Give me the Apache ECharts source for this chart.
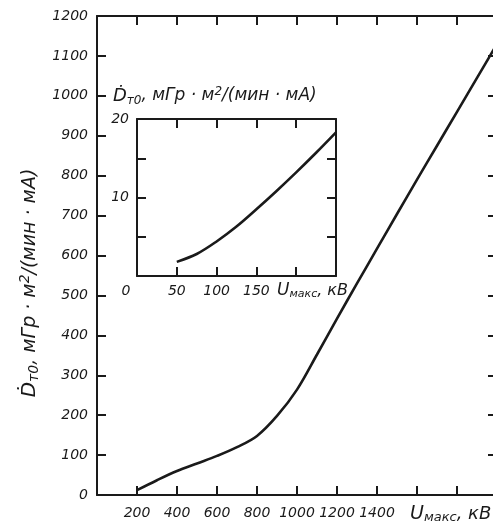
<!DOCTYPE html>
<html>
<head>
<meta charset="utf-8">
<script src="https://cdn.jsdelivr.net/npm/echarts@6/dist/echarts.min.js"></script>
<style>
  html, body { margin: 0; padding: 0; background: #fff; overflow: hidden; }
  #chart { width: 505px; height: 527px; }
</style>
</head>
<body>
<div id="chart"></div>
<script>
// main curve: U max (kV) -> dose rate
const mainVoltage = [200, 300, 400, 500, 600, 700, 800, 900, 1000, 1100, 1200, 1300, 1400, 1500, 1600, 1700, 1800, 1900, 2000];
const mainDose = [12, 37, 60, 79, 98, 120, 148, 198, 264, 352, 442, 530, 617, 704, 790, 875, 960, 1045, 1130];
const mainXLabels = [200, 400, 600, 800, 1000, 1200, 1400];

// inset curve
const insetVoltage = [50, 75, 100, 125, 150, 175, 200, 225, 250];
const insetDose = [1.8, 2.8, 4.4, 6.3, 8.5, 10.8, 13.2, 15.7, 18.3];
const insetXLabels = [0, 50, 100, 150];
const insetYLabels = [10, 20];

const ink = "#1a1a1a";
const font = "DejaVu Sans";

const labelStyle = {
  color: ink,
  fontFamily: font,
  fontStyle: "italic",
  fontSize: 14,
};

const boxAxis = (extra) => Object.assign({
  type: "value",
  splitLine: { show: false },
  axisLine: { show: true, onZero: false, lineStyle: { color: ink, width: 2 } },
  axisTick: { show: true, inside: true, length: 9, lineStyle: { color: ink, width: 2 } },
}, extra);

const makeRich = (big) => ({
  d: { fontFamily: font, fontStyle: "italic", fontSize: big + 1, fill: ink, color: ink },
  sub: { fontFamily: font, fontStyle: "italic", fontSize: big - 5, fill: ink, color: ink, padding: [9, 0, 0, 0] },
  n: { fontFamily: font, fontStyle: "italic", fontSize: big, fill: ink, color: ink },
  sup: { fontFamily: font, fontStyle: "italic", fontSize: big - 5, fill: ink, color: ink, padding: [0, 0, 9, 0] },
});
const doseTitle = "{d|Ḋ}{sub|т0}{n|, мГр · м}{sup|2}{n|/(мин · мА)}";
const voltRich = (big) => ({
  u: { fontFamily: font, fontStyle: "italic", fontSize: big + 1, fill: ink, color: ink },
  s: { fontFamily: font, fontStyle: "italic", fontSize: big - 5, fill: ink, color: ink, padding: [7, 0, 0, 0] },
  n: { fontFamily: font, fontStyle: "italic", fontSize: big, fill: ink, color: ink },
});
const voltTitle = "{u|U}{s|макс}{n|, кВ}";

const chart = echarts.init(document.getElementById("chart"));

const option = {
  animation: false,
  backgroundColor: "#fff",
  grid: [
    { left: 97, top: 16, width: 400, height: 479, outerBoundsMode: "none" },
    { left: 137, top: 119, width: 199, height: 157, outerBoundsMode: "none" },
  ],
  xAxis: [
    boxAxis({
      gridIndex: 0, position: "bottom", min: 0, max: 2000, interval: 200,
      axisLabel: Object.assign({}, labelStyle, {
        margin: 11,
        formatter: (v) => (mainXLabels.includes(v) ? String(v) : ""),
      }),
    }),
    boxAxis({ gridIndex: 0, position: "top", min: 0, max: 2000, interval: 200, axisLabel: { show: false } }),
    boxAxis({
      gridIndex: 1, position: "bottom", min: 0, max: 250, interval: 50,
      axisLabel: Object.assign({}, labelStyle, {
        margin: 8,
        formatter: (v) => (v === 0 ? "{z|0}" : insetXLabels.includes(v) ? String(v) : ""),
        rich: { z: Object.assign({}, labelStyle, { padding: [0, 22, 0, 0] }) },
      }),
    }),
    boxAxis({ gridIndex: 1, position: "top", min: 0, max: 250, interval: 50, axisLabel: { show: false } }),
  ],
  yAxis: [
    boxAxis({
      gridIndex: 0, position: "left", min: 0, max: 1200, interval: 100,
      axisLabel: Object.assign({}, labelStyle, { margin: 9, formatter: (v) => String(v) }),
    }),
    boxAxis({ gridIndex: 0, position: "right", min: 0, max: 1200, interval: 100, axisLabel: { show: false } }),
    boxAxis({
      gridIndex: 1, position: "left", min: 0, max: 20, interval: 5,
      axisLabel: Object.assign({}, labelStyle, {
        margin: 8,
        formatter: (v) => (insetYLabels.includes(v) ? String(v) : ""),
      }),
    }),
    boxAxis({ gridIndex: 1, position: "right", min: 0, max: 20, interval: 5, axisLabel: { show: false } }),
  ],
  graphic: [
    {
      type: "text", x: 30, y: 283, rotation: Math.PI / 2,
      style: { text: doseTitle, rich: makeRich(19), align: "center", verticalAlign: "middle" },
    },
    {
      type: "text", x: 113, y: 96,
      style: { text: doseTitle, rich: makeRich(17), align: "left", verticalAlign: "middle" },
    },
    {
      type: "text", x: 410, y: 514,
      style: { text: voltTitle, rich: voltRich(18), align: "left", verticalAlign: "middle" },
    },
    {
      type: "text", x: 277, y: 291,
      style: { text: voltTitle, rich: voltRich(16), align: "left", verticalAlign: "middle" },
    },
  ],
  series: [
    {
      type: "line",
      xAxisIndex: 0,
      yAxisIndex: 0,
      smooth: 0.35,
      showSymbol: false,
      lineStyle: { color: ink, width: 2.6 },
      data: mainVoltage.map((u, i) => [u, mainDose[i]]),
    },
    {
      type: "line",
      xAxisIndex: 2,
      yAxisIndex: 2,
      smooth: 0.35,
      showSymbol: false,
      lineStyle: { color: ink, width: 2.6 },
      data: insetVoltage.map((u, i) => [u, insetDose[i]]),
    },
  ],
};

chart.setOption(option);
</script>
</body>
</html>
